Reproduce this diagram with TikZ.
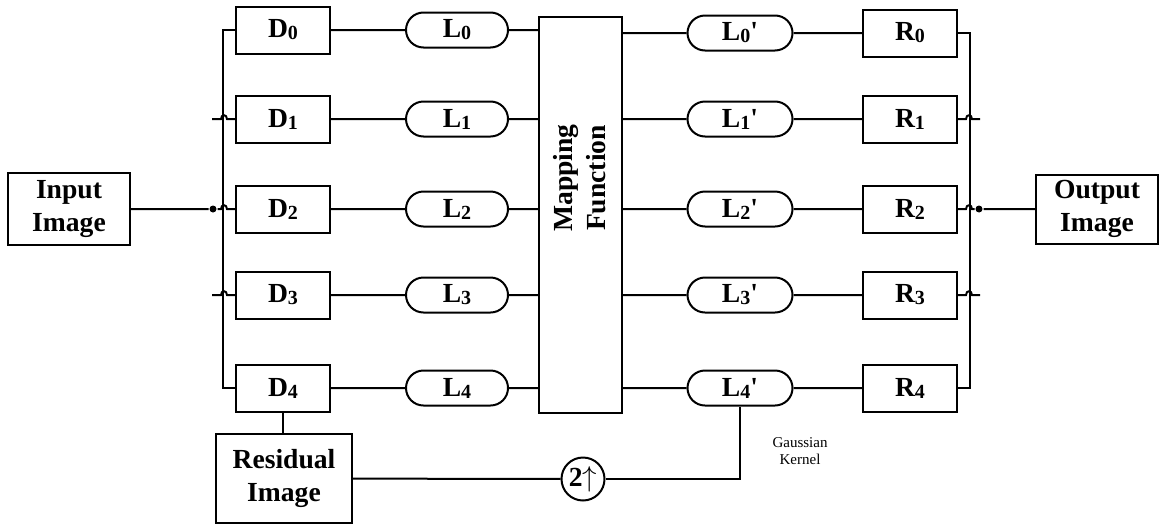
\documentclass[tikz,border=0pt]{standalone}
\usepackage{fontspec}
\setmainfont{Liberation Serif}
\usetikzlibrary{shapes.misc}
\newcommand{\lsub}[1]{\raisebox{-1pt}{\fontsize{10}{10}\selectfont #1}}
\begin{document}
\begin{tikzpicture}[x=0.5pt,y=-0.5pt,line width=1pt,
  lbl/.style={font=\bfseries\fontsize{13.8}{16.5}\selectfont},
  blk/.style={draw,lbl,minimum width=47pt,minimum height=23.5pt,inner sep=0pt},
  pill/.style={draw,lbl,rounded rectangle,minimum width=51pt,minimum height=17.5pt,inner sep=0pt},
  big/.style={draw,lbl,align=center,inner sep=0pt},
  dot/.style={circle,fill,inner sep=0pt,minimum size=3.5pt}]
  \useasboundingbox (0,0) rectangle (1160,525);
  \node[big,minimum width=61pt,minimum height=36pt] (in) at (69,209) {Input\\Image};
  \node[big,minimum width=61pt,minimum height=34.5pt] (out) at (1097,209) {Output\\Image};
  \node[big,minimum width=41.5pt,minimum height=198pt] (map) at (580.5,215) {};
  \node[lbl,rotate=90,align=center] (maptxt) at (580,178) {Mapping\\Function};
  \foreach \i/\yl/\yr in {0/30/33,1/119/119,2/209/209,3/295/295,4/388/388} {
    \node[blk] (d\i) at (283,\yl) {D\lsub{\i}};
    \node[pill] (l\i) at (457,\yl) {L\lsub{\i}};
    \node[pill,minimum width=52.5pt] (lp\i) at (740,\yr) {L\lsub{\i}\textquotesingle};
    \node[blk] (r\i) at (910,\yr) {R\lsub{\i}};
    \draw (d\i) -- (l\i) (l\i) -- (l\i.east -| map.west) (lp\i.west -| map.east) -- (lp\i) (lp\i) -- (r\i);
  }
  % left bus
  \draw (d0.west) -- ++(-12,0) |- (d4.west);
  \foreach \i/\y in {1/119,3/295} {
    \coordinate (sl\i) at (212,\y);
    \draw (sl\i) -- (221,\y) .. controls (221,\y-5) and (227,\y-5) .. (227,\y) -- (d\i.west);
  }
  \node[dot] (jin) at (213,209) {};
  \draw (in) -- (jin) -- (221,209) .. controls (221,204) and (227,204) .. (227,209) -- (d2.west);
  % right bus
  \draw (r0.east) -- ++(12,0) |- (r4.east);
  \foreach \i/\y in {1/119,3/295} {
    \coordinate (sr\i) at (980,\y);
    \draw (r\i.east) -- (966,\y) .. controls (966,\y-5) and (972,\y-5) .. (972,\y) -- (sr\i);
  }
  \node[dot] (jout) at (979,209) {};
  \draw (r2.east) -- (966,209) .. controls (966,204) and (972,204) .. (972,209) -- (jout) -- (out);
  % residual path
  \node[big,minimum width=68pt,minimum height=44.5pt] (res) at (284,478.5) {Residual\\Image};
  \node[draw,circle,lbl,minimum size=21.5pt,inner sep=0pt] (up) at (583,479) {2$\uparrow$};
  \draw (d4.south) -- (d4.south |- res.north);
  \draw (res) -- (up);
  \draw (up) -| (lp4.south);
  \node[font=\fontsize{7.5}{8.5}\selectfont,align=center] (gk) at (800,451) {Gaussian\\Kernel};
\end{tikzpicture}
\end{document}
